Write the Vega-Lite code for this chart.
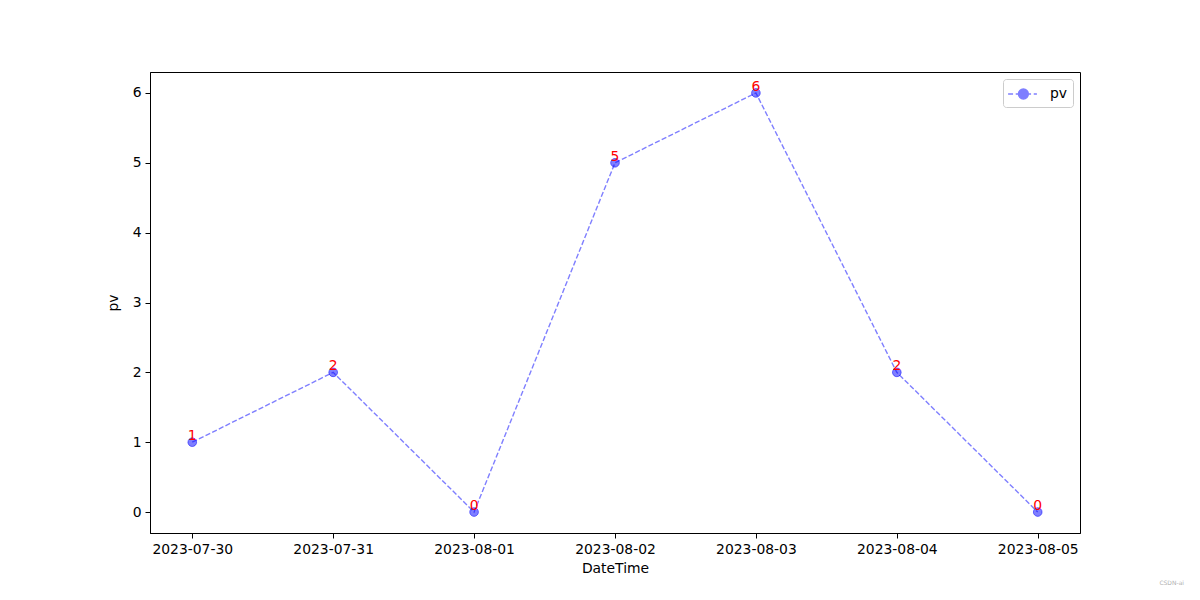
{
  "$schema": "https://vega.github.io/schema/vega-lite/v6.json",
  "autosize": "none",
  "width": 930,
  "height": 461,
  "padding": {"left": 150, "top": 72, "right": 120, "bottom": 67},
  "background": "white",
  "title": {
    "text": "CSDN-ai",
    "orient": "bottom",
    "anchor": "end",
    "fontSize": 6,
    "fontWeight": "normal",
    "color": "#b0b0b0",
    "font": "DejaVu Sans",
    "dx": 104,
    "offset": 4
  },
  "config": {
    "font": "DejaVu Sans",
    "view": {"stroke": "black", "strokeWidth": 1},
    "axis": {
      "grid": false,
      "domainColor": "black",
      "tickColor": "black",
      "tickSize": 5,
      "labelColor": "black",
      "labelFontSize": 13.9,
      "labelFont": "DejaVu Sans",
      "titleFont": "DejaVu Sans",
      "titleFontSize": 13.9,
      "titleFontWeight": "normal",
      "titleColor": "black",
      "labelPadding": 4
    }
  },
  "data": {
    "values": [
      {"date": "2023-07-30", "pv": 1, "series": "pv"},
      {"date": "2023-07-31", "pv": 2, "series": "pv"},
      {"date": "2023-08-01", "pv": 0, "series": "pv"},
      {"date": "2023-08-02", "pv": 5, "series": "pv"},
      {"date": "2023-08-03", "pv": 6, "series": "pv"},
      {"date": "2023-08-04", "pv": 2, "series": "pv"},
      {"date": "2023-08-05", "pv": 0, "series": "pv"}
    ]
  },
  "encoding": {
    "x": {
      "field": "date",
      "type": "ordinal",
      "sort": null,
      "scale": {"type": "point", "padding": 0.3},
      "axis": {"title": "DateTime", "labelAngle": 0, "titlePadding": 6}
    },
    "y": {
      "field": "pv",
      "type": "quantitative",
      "scale": {"domain": [-0.3, 6.3], "nice": false, "zero": false},
      "axis": {"title": "pv", "values": [0, 1, 2, 3, 4, 5, 6], "titlePadding": 12}
    }
  },
  "layer": [
    {
      "mark": {"type": "line", "strokeDash": [5.2, 2.2], "strokeWidth": 1.4, "opacity": 0.5, "color": "#0000ff"},
      "encoding": {
        "color": {
          "field": "series",
          "type": "nominal",
          "scale": {"range": ["#0000ff"]},
          "legend": {
            "title": null,
            "orient": "top-right",
            "offset": 7,
            "symbolType": "M-1.1,0H-0.55M-0.25,0H1.45M1.75,0H2.1M0.05,0A0.55,0.55 0 1,1 1.15,0A0.55,0.55 0 1,1 0.05,0Z",
            "symbolSize": 324,
            "symbolFillColor": "#0000ff",
            "symbolStrokeColor": "#0000ff",
            "symbolStrokeWidth": 1.4,
            "symbolOpacity": 0.5,
            "labelFontSize": 13.9,
            "labelFont": "DejaVu Sans",
            "labelColor": "black",
            "strokeColor": "#cccccc",
            "cornerRadius": 3,
            "padding": 5,
            "labelOffset": 22,
            "fillColor": "white"
          }
        }
      }
    },
    {
      "mark": {
        "type": "point",
        "shape": "circle",
        "size": 75,
        "fill": "#0000ff",
        "stroke": "#0000ff",
        "strokeWidth": 1,
        "fillOpacity": 0.5,
        "strokeOpacity": 0.5
      }
    },
    {
      "mark": {"type": "text", "color": "red", "fontSize": 13.9, "font": "DejaVu Sans", "baseline": "bottom", "align": "center", "dy": 1},
      "encoding": {"text": {"field": "pv", "type": "quantitative"}}
    }
  ]
}
